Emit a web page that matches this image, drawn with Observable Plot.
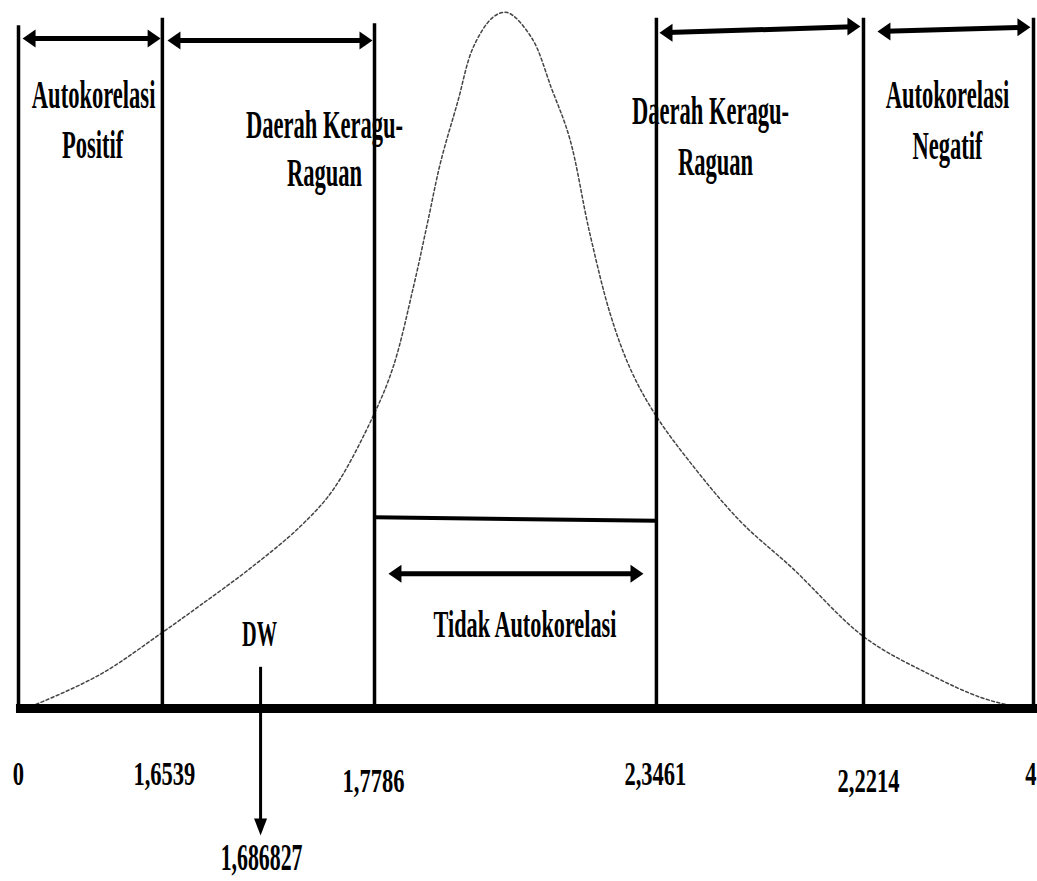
<!DOCTYPE html>
<html><head><meta charset="utf-8">
<script src="https://cdn.jsdelivr.net/npm/d3@7"></script>
<script src="https://cdn.jsdelivr.net/npm/@observablehq/plot@0.6"></script>
<style>body{margin:0;background:#fff}</style>
</head><body><div id="chart"></div>
<script>
// Durbin-Watson decision regions (schematic position along the 0–4 axis)
const boundaryLabels = ["0", "1,6539", "1,7786", "2,3461", "2,2214", "4"];
const boundaryPos = [0, 0.567, 1.403, 2.514, 3.330, 4];
const boundaryTop = [0.978, 0.989, 0.981, 0.989, 0.989, 0.989];
const tickLabelPos = [0, 0.575, 1.399, 2.510, 3.350, 3.99];
const tickBaseline = [-0.110, -0.110, -0.119, -0.110, -0.120, -0.110];

const dwName = "DW";
const dwValue = "1,686827";
const dwPos = 0.954;

// region labels (two lines each)
const regionLine1 = ["Autokorelasi", "Daerah Keragu-", "Daerah Keragu-", "Autokorelasi"];
const regionLine2 = ["Positif", "Raguan", "Raguan", "Negatif"];
const regionPos1 = [0.296, 1.206, 2.727, 3.661];
const regionPos2 = [0.292, 1.206, 2.747, 3.661];
const regionBase1 = [0.861, 0.817, 0.837, 0.861];
const regionBase2 = [0.788, 0.748, 0.764, 0.787];
const middleLabel = "Tidak Autokorelasi";

// double-headed arrows spanning each region
const arrowStart = [0.016, 0.587, 2.526, 3.385, 1.458];
const arrowEnd = [0.560, 1.395, 3.318, 3.988, 2.463];
const arrowStartH = [0.960, 0.957, 0.968, 0.970, 0.193];
const arrowEndH = [0.960, 0.957, 0.977, 0.976, 0.193];

// dashed density curve
const curvePos = [0.028, 0.055, 0.323, 0.567, 0.717, 0.914, 1.111, 1.241, 1.399, 1.478, 1.557, 1.612, 1.663, 1.730, 1.793, 1.872, 1.927, 2.022, 2.101, 2.172, 2.250, 2.333, 2.412, 2.506, 2.644, 2.845, 3.050, 3.334, 3.590, 3.791, 3.929, 3.980];
const curveHeight = [0.001, 0.004, 0.049, 0.109, 0.148, 0.201, 0.261, 0.314, 0.420, 0.491, 0.605, 0.696, 0.782, 0.868, 0.948, 0.991, 0.997, 0.961, 0.888, 0.817, 0.683, 0.564, 0.486, 0.423, 0.354, 0.268, 0.201, 0.102, 0.049, 0.016, 0.003, 0.001];

// build tables
const boundaries = boundaryPos.map((p, i) => ({p, top: boundaryTop[i]}));
const ticks = boundaryLabels.map((label, i) => ({label, p: tickLabelPos[i], base: tickBaseline[i]}));
const regions = regionLine1.map((t, i) => ({t1: t, t2: regionLine2[i], p1: regionPos1[i], p2: regionPos2[i], b1: regionBase1[i], b2: regionBase2[i]}));
const arrows = arrowStart.map((s, i) => ({x1: s, x2: arrowEnd[i], y1: arrowStartH[i], y2: arrowEndH[i]}));
const curve = curvePos.map((p, i) => ({p, h: curveHeight[i]}));
const barData = [{x1: boundaryPos[2], x2: boundaryPos[3], y1: 0.274, y2: 0.269}];
const dwArrow = [{x: dwPos, y1: 0.059, y2: -0.182}];

// arrowhead symbols (tip at the origin)
function head(L, W, dir) {
  return {draw(ctx) {
    const pts = dir === "right" ? [[0,0],[-L,-W/2],[-L,W/2]]
      : dir === "left" ? [[0,0],[L,-W/2],[L,W/2]]
      : [[0,0],[-W/2,-L],[W/2,-L]];
    ctx.moveTo(...pts[0]); ctx.lineTo(...pts[1]); ctx.lineTo(...pts[2]); ctx.closePath();
  }};
}

const chart = Plot.plot({
  width: 1037,
  height: 881,
  marginLeft: 18,
  marginRight: 4,
  marginTop: 10,
  marginBottom: 173,
  style: {fontFamily: "'Liberation Serif', 'Times New Roman', serif", background: "white", color: "black"},
  x: {domain: [0, 4], axis: null},
  y: {domain: [0, 1], axis: null},
  marks: [
    Plot.line(curve, {x: "p", y: "h", curve: "catmull-rom", stroke: "#444", strokeWidth: 1.5, strokeDasharray: "3,2.5"}),
    Plot.ruleX(boundaries, {x: "p", y1: 0, y2: "top", stroke: "black", strokeWidth: 3.5}),
    Plot.ruleY([0], {x1: -0.008, x2: 4.02, stroke: "black", strokeWidth: 9}),
    Plot.link(barData, {x1: "x1", x2: "x2", y1: "y1", y2: "y2", stroke: "black", strokeWidth: 4}),
    Plot.arrow(arrows, {x1: "x1", x2: "x2", y1: "y1", y2: "y2", stroke: "black", strokeWidth: 5, headLength: 0, insetStart: 8, insetEnd: 8, strokeLinecap: "butt"}),
    Plot.dot(arrows, {x: "x2", y: "y2", symbol: head(13, 18, "right"), r: 5, fill: "black", stroke: null}),
    Plot.dot(arrows, {x: "x1", y: "y1", symbol: head(13, 18, "left"), r: 5, fill: "black", stroke: null}),
    Plot.ruleX(dwArrow, {x: "x", y1: "y1", y2: "y2", stroke: "black", strokeWidth: 3, insetBottom: 10}),
    Plot.dot(dwArrow, {x: "x", y: "y2", symbol: head(17, 13, "down"), r: 5, fill: "black", stroke: null}),
    Plot.text(regions, {x: "p1", y: "b1", text: "t1", fontSize: 41, fontWeight: "bold", lineAnchor: "bottom", textAnchor: "middle", fill: "black"}),
    Plot.text(regions, {x: "p2", y: "b2", text: "t2", fontSize: 41, fontWeight: "bold", lineAnchor: "bottom", textAnchor: "middle", fill: "black"}),
    Plot.text([middleLabel], {x: 1.996, y: 0.102, text: d => d, fontSize: 38, fontWeight: "bold", lineAnchor: "bottom", textAnchor: "middle", fill: "black"}),
    Plot.text([dwName], {x: 0.950, y: 0.090, text: d => d, fontSize: 35, fontWeight: "bold", lineAnchor: "bottom", textAnchor: "middle", fill: "black"}),
    Plot.text([dwValue], {x: 0.958, y: -0.232, text: d => d, fontSize: 37, fontWeight: "bold", lineAnchor: "bottom", textAnchor: "middle", fill: "black"}),
    Plot.text(ticks, {x: "p", y: "base", text: "label", fontSize: 34, fontWeight: "bold", lineAnchor: "bottom", textAnchor: "middle", fill: "black"})
  ]
});

// the original lettering is strongly condensed: narrow each text horizontally
const squeeze = {41: 0.55, 38: 0.586, 35: 0.58, 37: 0.59, 34: 0.663};
chart.querySelectorAll("g[font-size]").forEach(g => {
  const k = squeeze[parseFloat(g.getAttribute("font-size"))];
  if (!k) return;
  g.querySelectorAll("text").forEach(t => {
    const tr = t.getAttribute("transform") || "";
    t.setAttribute("transform", tr + ` scale(${k},1)`);
  });
});
document.getElementById("chart").appendChild(chart);
</script>
</body></html>
